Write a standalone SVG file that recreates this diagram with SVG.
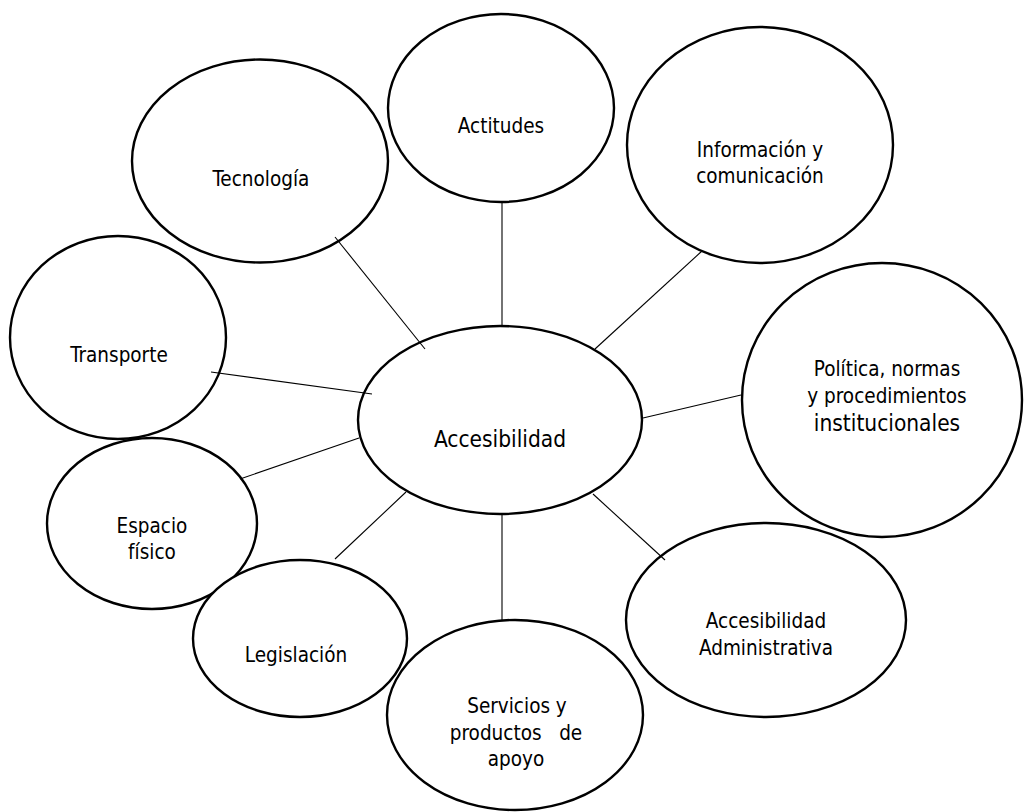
<svg xmlns="http://www.w3.org/2000/svg" width="1024" height="812" viewBox="0 0 1024 812">
<style>
.n{fill:#fff;stroke:#000;stroke-width:2.4}
.c{stroke:#000;stroke-width:1.1;fill:none}
text{font-family:"DejaVu Sans Condensed","DejaVu Sans",sans-serif;font-stretch:condensed;font-size:20.5px;fill:#000;text-anchor:middle}
.big{font-size:22.5px}
</style>
<rect width="1024" height="812" fill="#fff"/>
<g id="nodes-outline">
<g id="tecnologia"><ellipse class="n" cx="260" cy="161" rx="128" ry="101.5"/><text x="261" y="186">Tecnología</text></g>
<g id="actitudes"><ellipse class="n" cx="501" cy="108" rx="113" ry="94"/><text x="501" y="133">Actitudes</text></g>
<g id="informacion"><ellipse class="n" cx="760" cy="145" rx="133" ry="118"/><text x="760" y="157">Información y</text><text x="760" y="183">comunicación</text></g>
<g id="politica"><ellipse class="n" cx="882" cy="400" rx="140" ry="137"/><text x="887" y="376">Política, normas</text><text x="887" y="403">y procedimientos</text><text class="big" x="887" y="431">institucionales</text></g>
<g id="transporte"><ellipse class="n" cx="118" cy="337.5" rx="108" ry="101.5"/><text x="119" y="362">Transporte</text></g>
<g id="espacio"><ellipse class="n" cx="152" cy="523.5" rx="105" ry="85.5"/><text x="152" y="533">Espacio</text><text x="152" y="559">físico</text></g>
<g id="legislacion"><ellipse class="n" cx="300" cy="638.5" rx="107" ry="78.5"/><text x="296" y="662">Legislación</text></g>
<g id="servicios"><ellipse class="n" cx="515" cy="715" rx="128" ry="95"/><text x="517" y="713">Servicios y</text><text x="516" y="740" xml:space="preserve">productos   de</text><text x="516" y="766">apoyo</text></g>
<g id="administrativa"><ellipse class="n" cx="766" cy="620" rx="140" ry="97"/><text x="766" y="628">Accesibilidad</text><text x="766" y="655">Administrativa</text></g>
<g id="accesibilidad"><ellipse class="n" cx="500" cy="420" rx="142" ry="94"/><text class="big" x="500" y="447">Accesibilidad</text></g>
</g>
<g id="connectors">
<line class="c" x1="335" y1="237" x2="425" y2="349"/>
<line class="c" x1="502" y1="202" x2="502" y2="326"/>
<line class="c" x1="702" y1="251" x2="595" y2="349"/>
<line class="c" x1="643" y1="418" x2="741" y2="395"/>
<line class="c" x1="211" y1="372" x2="372" y2="394"/>
<line class="c" x1="240" y1="479" x2="359" y2="438"/>
<line class="c" x1="335" y1="559" x2="406" y2="492"/>
<line class="c" x1="502" y1="514" x2="502" y2="620"/>
<line class="c" x1="593" y1="494" x2="665" y2="560"/>
</g>
</svg>
